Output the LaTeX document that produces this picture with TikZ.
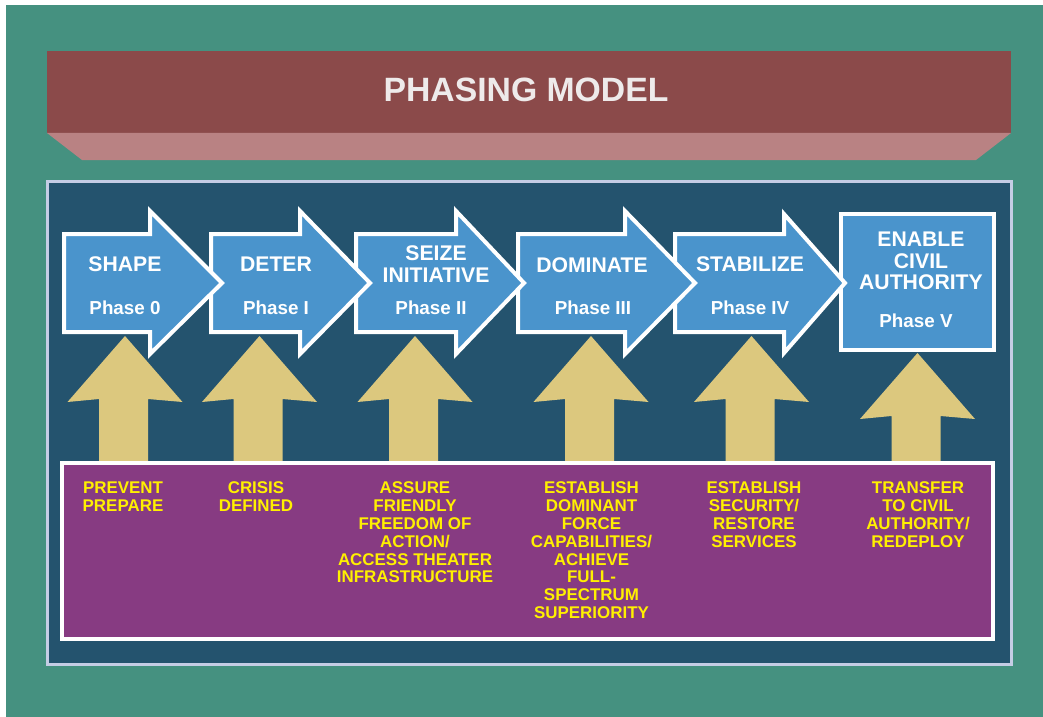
\documentclass[tikz,border=0pt]{standalone}
\usepackage{fontspec}
\setmainfont{Liberation Sans}
\definecolor{bggreen}{RGB}{69,145,128}
\definecolor{bannerred}{RGB}{139,74,74}
\definecolor{bannerpink}{RGB}{185,130,131}
\definecolor{titlewhite}{RGB}{238,234,234}
\definecolor{panelborder}{RGB}{197,205,229}
\definecolor{paneldark}{RGB}{36,83,110}
\definecolor{arrowblue}{RGB}{74,148,204}
\definecolor{gold}{RGB}{220,200,126}
\definecolor{boxpurple}{RGB}{135,59,130}
\definecolor{txtyellow}{RGB}{255,240,0}
\tikzset{
  phasearrow/.style={fill=arrowblue,draw=white,line width=3pt,line join=miter},
  goldarrow/.style={fill=gold,draw=none},
  phasetitle/.style={text=white,font=\bfseries\fontsize{15.9}{16.2}\selectfont,align=center,inner sep=0pt},
  phaselabel/.style={text=white,font=\bfseries\fontsize{14.1}{16}\selectfont,inner sep=0pt},
  tasktext/.style={text=txtyellow,font=\bfseries\fontsize{12.7}{13.4}\selectfont,align=center,inner sep=0pt,anchor=north}
}
\begin{document}
\begin{tikzpicture}[x=0.75pt,y=-0.75pt]
\useasboundingbox (0,0) rectangle (1043,717);
\fill[white] (0,0) rectangle (1043,717);
\fill[bggreen] (6,5) rectangle (1043,717);
% banner
\fill[bannerred] (47,51) rectangle (1011,133);
\fill[bannerpink] (47,133) -- (1011,133) -- (976,160) -- (82,160) -- cycle;
\node[text=titlewhite,font=\bfseries\fontsize{25.3}{28}\selectfont,inner sep=0pt] (title) at (526,90) {PHASING MODEL};
% panel
\draw[fill=paneldark,draw=panelborder,line width=2.5pt] (47.5,181.5) rectangle (1011.5,664.5);
% gold arrows
\foreach \cx/\ay/\by in {123.5/336/402, 258/336/402, 413.5/336/402, 589.5/336/402, 750/336/402, 916/353/419}{
  \fill[gold] (\cx+1.5,\ay) -- (\cx+59,\by) -- (\cx+24.5,\by-3) -- (\cx+24.5,462) -- (\cx-24.5,462) -- (\cx-24.5,\by-3) -- (\cx-56,\by) -- cycle;
}
% purple box
\draw[fill=boxpurple,draw=white,line width=3pt] (62,463) rectangle (993,639);
% phase box V
\draw[phasearrow] (841,214) rectangle (994,350);
% blue arrows (drawn right to left so earlier ones lie on top)
\draw[phasearrow] (675,234) -- (784,234) -- (784,214) -- (845,283) -- (784,353) -- (784,332) -- (675,332) -- cycle;
\draw[phasearrow] (518,234) -- (625,234) -- (625,211) -- (695,283) -- (625,354) -- (625,332) -- (518,332) -- cycle;
\draw[phasearrow] (356,234) -- (456,234) -- (456,211) -- (524,283) -- (456,354) -- (456,332) -- (356,332) -- cycle;
\draw[phasearrow] (211,234) -- (300,234) -- (300,211) -- (370,283) -- (300,354) -- (300,332) -- (211,332) -- cycle;
\draw[phasearrow] (64,234) -- (150,234) -- (150,211) -- (222,283) -- (150,354) -- (150,332) -- (64,332) -- cycle;
% arrow texts
\node[phasetitle] (t0) at (125,264) {SHAPE};
\node[phaselabel] (p0) at (125,308) {Phase 0};
\node[phasetitle] (t1) at (276,264) {DETER};
\node[phaselabel] (p1) at (276,308) {Phase I};
\node[phasetitle] (t2) at (436,264) {SEIZE\\INITIATIVE};
\node[phaselabel] (p2) at (431,308) {Phase II};
\node[phasetitle] (t3) at (592,265) {DOMINATE};
\node[phaselabel] (p3) at (593,308) {Phase III};
\node[phasetitle] (t4) at (750,264) {STABILIZE};
\node[phaselabel] (p4) at (750,308) {Phase IV};
\node[phasetitle] (t5) at (921,261) {ENABLE\\CIVIL\\AUTHORITY};
\node[phaselabel] (p5) at (916,321) {Phase V};
% task texts
\node[tasktext] (k0) at (123,481.5) {PREVENT\\PREPARE};
\node[tasktext] (k1) at (256,481.5) {CRISIS\\DEFINED};
\node[tasktext] (k2) at (415,481.5) {ASSURE\\FRIENDLY\\FREEDOM OF\\ACTION/\\ACCESS THEATER\\INFRASTRUCTURE};
\node[tasktext] (k3) at (591.5,481.5) {ESTABLISH\\DOMINANT\\FORCE\\CAPABILITIES/\\ACHIEVE\\FULL-\\SPECTRUM\\SUPERIORITY};
\node[tasktext] (k4) at (754,481.5) {ESTABLISH\\SECURITY/\\RESTORE\\SERVICES};
\node[tasktext] (k5) at (918,481.5) {TRANSFER\\TO CIVIL\\AUTHORITY/\\REDEPLOY};
\end{tikzpicture}
\end{document}
